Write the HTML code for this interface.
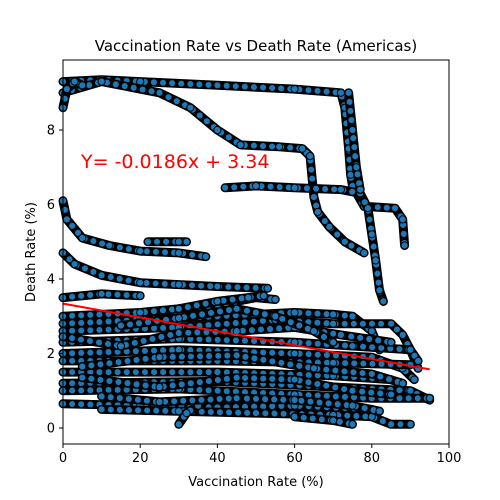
<!DOCTYPE html>
<html><head><meta charset="utf-8"><style>
html,body{margin:0;padding:0;background:#fff;}
svg{display:block;font-family:"DejaVu Sans","Liberation Sans",sans-serif;}
</style></head><body>
<svg id="chart" width="500" height="500" viewBox="0 0 500 500">
<rect width="500" height="500" fill="#fff"/>
<g id="marks"></g>
<g id="axes"></g>
</svg>
<script>
const xTicks = [0, 20, 40, 60, 80, 100];
const yTicks = [0, 2, 4, 6, 8];
const slope = -0.0186;
const intercept = 3.34;
const fitRange = [0, 95];
const trackUpper1 = [[0,9.3],[10,9.35],[20,9.3],[40,9.2],[60,9.1],[72,9.0],[73,8.6],[74,7.5],[74.5,6.8],[75,6.5],[78,5.95],[86,5.9],[88,5.6],[88.5,4.9]];
const trackUpper2 = [[0,9.0],[10,9.3],[25,9.0],[33,8.6],[40,8.0],[46,7.6],[56,7.55],[62,7.5],[64,7.3],[65,6.2],[66,5.8],[69,5.4],[73,5.0],[78,4.7]];
const trackUpper3 = [[42,6.45],[50,6.5],[60,6.45],[72,6.4],[77,6.3],[79,5.9],[80,5.2],[81,4.5],[82,3.7],[83,3.4]];
const trackUpper4 = [[74,9.0],[75,8.0],[76,7.0],[77,6.4]];
const trackUpper5 = [[0,8.6],[1,9.1],[3,9.3],[5,9.2]];
const trackMid1 = [[0,6.1],[1,5.6],[5,5.1],[12,4.9],[20,4.75],[30,4.7],[37,4.6]];
const trackMid2 = [[0,4.7],[3,4.4],[10,4.1],[20,3.9],[30,3.85],[40,3.8],[53,3.75]];
const trackMid3 = [[22,5.0],[30,5.0],[32,5.0]];
const trackL1 = [[0,3.0],[20,3.1],[40,3.3],[50,3.5],[55,3.45]];
const trackL2 = [[0,2.8],[20,2.9],[40,3.0],[60,3.1],[70,3.05],[75,3.0],[80,2.6],[82,2.1]];
const trackL3 = [[0,2.6],[30,2.7],[55,2.9],[70,2.8],[85,2.8],[88,2.5],[90,2.1],[92,1.6]];
const trackL4 = [[0,2.3],[30,2.4],[60,2.3],[75,2.2],[90,2.1],[92,1.8]];
const trackL5 = [[0,2.0],[30,2.1],[60,2.0],[80,1.9],[88,1.6],[91,1.3]];
const trackL6 = [[0,1.8],[40,1.8],[70,1.75],[90,1.7]];
const trackL7 = [[0,1.5],[40,1.5],[70,1.4],[85,1.3]];
const trackL8 = [[0,1.2],[40,1.25],[70,1.1],[90,1.0],[95,0.75]];
const trackL9 = [[0,1.0],[30,1.05],[60,0.9],[80,0.8],[95,0.8]];
const trackL10 = [[0,0.65],[20,0.6],[40,0.55],[60,0.6],[80,0.5]];
const trackL11 = [[10,0.5],[30,0.45],[50,0.4],[70,0.35],[80,0.3],[85,0.1],[90,0.1]];
const trackL12 = [[30,0.1],[32,0.4],[35,0.6]];
const trackL13 = [[60,0.3],[70,0.2],[75,0.1]];
const trackL14 = [[0,3.5],[10,3.6],[20,3.55]];
const trackL15 = [[0,2.45],[15,2.2],[30,2.55],[45,2.6],[60,2.7],[72,2.5],[85,2.3]];
const trackL16 = [[5,1.65],[25,1.9],[45,1.95],[65,1.6],[80,1.45],[88,1.2]];
const trackL17 = [[5,1.35],[25,1.1],[45,1.35],[60,1.3],[75,1.0],[85,0.9]];
const trackL18 = [[10,0.85],[25,0.7],[45,0.8],[60,0.75],[75,0.6],[82,0.45]];
const trackL19 = [[15,2.75],[30,2.95],[45,3.2],[55,3.0],[65,2.6],[70,2.3]];
const trackL20 = [[30,3.2],[40,3.4],[48,3.5],[52,3.55]];
const tracks = [trackUpper1,trackUpper2,trackUpper3,trackUpper4,trackUpper5,trackMid1,trackMid2,trackMid3,trackL1,trackL2,trackL3,trackL4,trackL5,trackL6,trackL7,trackL8,trackL9,trackL10,trackL11,trackL12,trackL13,trackL14,trackL15,trackL16,trackL17,trackL18,trackL19,trackL20];

const X0=63,X1=449,Y0=444,Y1=60, xmin=0,xmax=100,ymin=-0.43,ymax=9.88;
const sx=v=>X0+(v-xmin)/(xmax-xmin)*(X1-X0);
const sy=v=>Y0-(v-ymin)/(ymax-ymin)*(Y0-Y1);
const NS="http://www.w3.org/2000/svg";
const marks=document.getElementById('marks'), axes=document.getElementById('axes');
function mk(tag,attrs,parent){const e=document.createElementNS(NS,tag);for(const k in attrs)e.setAttribute(k,attrs[k]);parent.appendChild(e);return e;}

tracks.forEach((t,i)=>{
  const d=t.map((p,j)=>(j?'L':'M')+sx(p[0]).toFixed(1)+' '+sy(p[1]).toFixed(1)).join(' ');
  const g=mk('g',{},marks);
  
  
  mk('path',{d:d,fill:'none',stroke:'#000','stroke-width':9,'stroke-linecap':'round','stroke-linejoin':'round'},g);
  mk('path',{d:d,fill:'none',stroke:'#1f77b4','stroke-width':6,'stroke-linecap':'round','stroke-dasharray':'0.1 9'},g);
  t.forEach(p=>{
    const c=mk('circle',{cx:sx(p[0]),cy:sy(p[1]),r:3.6,fill:'#1f77b4',stroke:'#000','stroke-width':1},g);
    
    
  });
});
const fit=mk('line',{x1:sx(fitRange[0]),y1:sy(intercept+slope*fitRange[0]),x2:sx(fitRange[1]),y2:sy(intercept+slope*fitRange[1]),stroke:'red','stroke-width':2},marks);


const eq=mk('text',{x:81,y:168,fill:'red','font-size':19},marks);
eq.textContent='Y= '+slope+'x + '+intercept;



const frame=mk('rect',{x:X0,y:Y1,width:X1-X0,height:Y0-Y1,fill:'none',stroke:'#000','stroke-width':1},axes);


xTicks.forEach(v=>{
  const x=sx(v);
  mk('line',{x1:x,y1:Y0,x2:x,y2:Y0+4,stroke:'#000'},axes);
  const t=mk('text',{x:x,y:Y0+18,'text-anchor':'middle','font-size':13},axes);
  t.textContent=v;
  
  
});
yTicks.forEach(v=>{
  const y=sy(v);
  mk('line',{x1:X0-4,y1:y,x2:X0,y2:y,stroke:'#000'},axes);
  const t=mk('text',{x:X0-8,y:y+4.5,'text-anchor':'end','font-size':13},axes);
  t.textContent=v;
  
  
});
const tt=mk('text',{x:256,y:51,'text-anchor':'middle','font-size':15},axes);
tt.textContent='Vaccination Rate vs Death Rate (Americas)';


const xl=mk('text',{x:256,y:486,'text-anchor':'middle','font-size':13},axes);
xl.textContent='Vaccination Rate (%)';


const yl=mk('text',{x:35,y:252,'text-anchor':'middle','font-size':13,transform:'rotate(-90 35 252)'},axes);
yl.textContent='Death Rate (%)';


</script>
</body></html>
